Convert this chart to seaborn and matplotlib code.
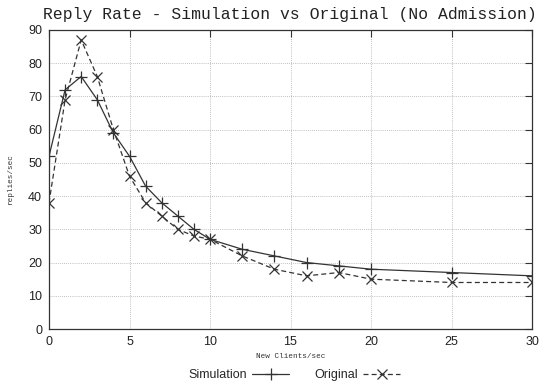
import matplotlib
matplotlib.use("Agg")
import matplotlib.pyplot as plt
import seaborn as sns
import pandas as pd

clients = [0, 1, 2, 3, 4, 5, 6, 7, 8, 9, 10, 12, 14, 16, 18, 20, 25, 30]
simulation = [52, 72, 76, 69, 59, 52, 43, 38, 34, 30, 27, 24, 22, 20, 19, 18, 17, 16]
original = [38, 69, 87, 76, 60, 46, 38, 34, 30, 28, 27, 22, 18, 16, 17, 15, 14, 14]
x_ticks = [0, 5, 10, 15, 20, 25, 30]
y_ticks = [0, 10, 20, 30, 40, 50, 60, 70, 80, 90]

df = pd.DataFrame({"clients": clients, "Simulation": simulation, "Original": original})

sns.set_theme(style="white")
plt.rcParams["font.family"] = ["Liberation Sans", "DejaVu Sans"]

fig = plt.figure(figsize=(5.42, 3.88), dpi=100)
ax = fig.add_axes([49 / 542, 1 - 329 / 388, (532 - 49) / 542, (329 - 30) / 388])

sns.lineplot(data=df, x="clients", y="Simulation", ax=ax, color="#333333", lw=0.9,
             marker="+", markersize=8, markeredgewidth=0.9, markeredgecolor="#333333",
             label="Simulation")
sns.lineplot(data=df, x="clients", y="Original", ax=ax, color="#333333", lw=0.9,
             linestyle=(0, (4, 2.5)), marker="x", markersize=6.5, markeredgewidth=0.9,
             markeredgecolor="#333333", label="Original")

ax.set_xlim(0, 30)
ax.set_ylim(0, 90)
ax.set_xticks(x_ticks)
ax.set_yticks(y_ticks)
ax.grid(True, color="#aaaaaa", linestyle=(0, (1, 1.5)), lw=0.6)
for s in ax.spines.values():
    s.set_color("#333333")
    s.set_linewidth(0.9)
ax.tick_params(direction="in", length=5, width=0.8, color="#333333",
               top=True, right=True, labelsize=9, pad=5, labelcolor="#222222")

mono = ["Liberation Mono", "DejaVu Sans Mono"]
ax.set_xlabel("New Clients/sec", fontsize=5.5, family=mono, labelpad=4, color="#333333")
ax.set_ylabel("replies/sec", fontsize=5.5, family=mono, labelpad=10, color="#333333")
fig.text(290 / 542, 1 - 14 / 388, "Reply Rate - Simulation vs Original (No Admission)",
         ha="center", va="center", fontsize=11.8, family=mono, color="#222222")

ax.legend(loc="center", bbox_to_anchor=(0.508, -0.155), ncol=2, frameon=False,
          fontsize=9, markerfirst=False, handlelength=3.0, columnspacing=2.0,
          handletextpad=0.4)

fig.savefig("out.png", dpi=100)
